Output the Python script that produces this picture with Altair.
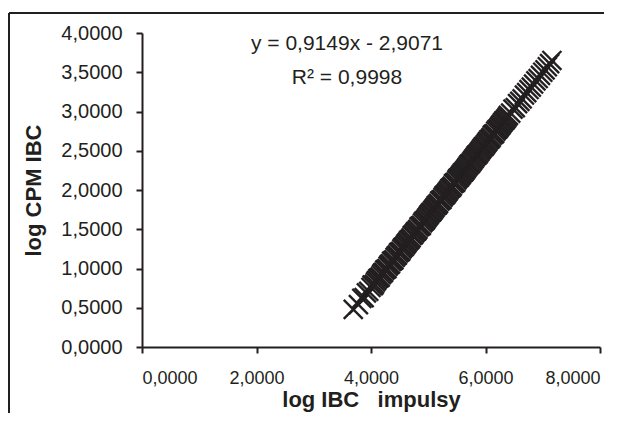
import altair as alt
import pandas as pd

log_ibc = [3.69, 3.78, 3.84, 3.88, 3.92, 3.96, 4.00, 4.04, 4.08, 4.12, 4.16, 4.20,
           4.24, 4.28, 4.32, 4.36, 4.40, 4.44, 4.48, 4.52, 4.56, 4.60, 4.64, 4.68,
           4.72, 4.76, 4.80, 4.84, 4.88, 4.92, 4.96, 5.00, 5.04, 5.08, 5.12, 5.16,
           5.20, 5.24, 5.28, 5.32, 5.36, 5.40, 5.44, 5.48, 5.52, 5.56, 5.60, 5.64,
           5.68, 5.72, 5.76, 5.80, 5.84, 5.88, 5.92, 5.96, 6.00, 6.04, 6.08, 6.12,
           6.16, 6.20, 6.24, 6.28, 6.32, 6.36, 6.40, 6.44, 6.48, 6.52, 6.56, 6.60,
           6.64, 6.68, 6.72, 6.76, 6.80, 6.84, 6.88, 6.92, 6.96, 7.00, 7.04, 7.08,
           7.12, 7.16]
log_cpm = [0.48, 0.54, 0.62, 0.63, 0.69, 0.71, 0.76, 0.78, 0.83, 0.87, 0.89, 0.94,
           0.98, 1.00, 1.05, 1.09, 1.11, 1.16, 1.20, 1.22, 1.27, 1.30, 1.34, 1.37,
           1.42, 1.45, 1.48, 1.53, 1.55, 1.60, 1.63, 1.67, 1.71, 1.74, 1.78, 1.81,
           1.86, 1.88, 1.93, 1.96, 2.00, 2.03, 2.08, 2.10, 2.15, 2.18, 2.22, 2.25,
           2.29, 2.33, 2.36, 2.40, 2.44, 2.47, 2.51, 2.55, 2.58, 2.62, 2.65, 2.70,
           2.72, 2.77, 2.80, 2.84, 2.88, 2.91, 2.95, 2.98, 3.03, 3.05, 3.10, 3.13,
           3.16, 3.21, 3.24, 3.28, 3.31, 3.35, 3.39, 3.42, 3.46, 3.50, 3.53, 3.57,
           3.61, 3.65]
# further points of the dense middle part of the cloud
log_ibc_b = [4.02, 4.06, 4.10, 4.14, 4.18, 4.22, 4.26, 4.30, 4.34, 4.38, 4.42, 4.46,
             4.50, 4.54, 4.58, 4.62, 4.66, 4.70, 4.74, 4.78, 4.82, 4.86, 4.90, 4.94,
             4.98, 5.02, 5.06, 5.10, 5.14, 5.18, 5.22, 5.26, 5.30, 5.34, 5.38, 5.42,
             5.46, 5.50, 5.54, 5.58, 5.62, 5.66, 5.70, 5.74, 5.78, 5.82, 5.86, 5.90,
             5.94, 5.98, 6.02, 6.06, 6.10, 6.14, 6.18, 6.22, 6.26, 6.30, 6.34, 6.38]
log_cpm_b = [0.79, 0.80, 0.85, 0.88, 0.92, 0.95, 0.99, 1.03, 1.06, 1.10, 1.14, 1.17,
             1.21, 1.25, 1.28, 1.32, 1.36, 1.39, 1.43, 1.47, 1.50, 1.54, 1.58, 1.61,
             1.65, 1.69, 1.72, 1.76, 1.80, 1.83, 1.87, 1.91, 1.94, 1.98, 2.02, 2.05,
             2.09, 2.13, 2.16, 2.20, 2.23, 2.27, 2.31, 2.34, 2.38, 2.42, 2.45, 2.49,
             2.53, 2.56, 2.60, 2.64, 2.67, 2.71, 2.75, 2.78, 2.82, 2.86, 2.89, 2.93]
x_ticks = [0, 2, 4, 6, 8]
y_ticks = [0, 0.5, 1, 1.5, 2, 2.5, 3, 3.5, 4]
eq_lines = ["y = 0,9149x - 2,9071", "R\u00b2 = 0,9998"]

INK = "#231f20"
FONT = "Liberation Sans"

df = pd.DataFrame({"x": log_ibc + log_ibc_b, "y": log_cpm + log_cpm_b})

label_expr = "replace(format(datum.value, '.4f'), '.', ',')"

points = alt.Chart(df).mark_point(
    shape="M-1,-1L1,1M-1,1L1,-1", filled=False, color=INK, strokeWidth=2.4,
    size=360, opacity=1
).encode(
    x=alt.X("x:Q", scale=alt.Scale(domain=[0, 8], nice=False, zero=False),
            axis=alt.Axis(values=x_ticks, labelExpr=label_expr,
                          title="log IBC \u00a0 impulsy", grid=False,
                          labelFontSize=18, labelPadding=16,
                          titleFontSize=22, titleFontWeight="bold",
                          titleY=59, titleBaseline="alphabetic")),
    y=alt.Y("y:Q", scale=alt.Scale(domain=[0, 4], nice=False, zero=False),
            axis=alt.Axis(values=y_ticks, labelExpr=label_expr, title="log CPM IBC",
                          grid=False, labelFontSize=20, labelPadding=14,
                          titleFontSize=22, titleFontWeight="bold",
                          titleX=-109, titleY=157, titleBaseline="middle")),
)

eq_df = pd.DataFrame({"t": eq_lines, "py": [17, 51]})
eq = alt.Chart(eq_df).mark_text(
    font=FONT, fontSize=21, color=INK, align="center", baseline="alphabetic"
).encode(
    x=alt.value(205), y=alt.Y("py:Q", scale=None), text="t:N"
)

one = pd.DataFrame({"a": [0]})
frame_left = alt.Chart(one).mark_rule(color=INK, strokeWidth=2).encode(
    x=alt.value(-133), y=alt.value(-20), y2=alt.value(1200)
)
frame_top = alt.Chart(one).mark_rule(color=INK, strokeWidth=2).encode(
    x=alt.value(-133), x2=alt.value(1200), y=alt.value(-20)
)

chart = alt.layer(frame_left, frame_top, points, eq).properties(
    width=458, height=314, background="white",
    autosize=alt.AutoSizeParams(type="none"),
    padding={"left": 134, "top": 25, "right": 4, "bottom": 66},
).configure_view(stroke=None).configure_axis(
    grid=False, domainColor=INK, domainWidth=2, tickColor=INK, tickWidth=2,
    tickSize=6, labelColor=INK, titleColor=INK, labelFont=FONT, titleFont=FONT,
)

chart.save("out.html", embed_options={"renderer": "svg", "actions": False})
